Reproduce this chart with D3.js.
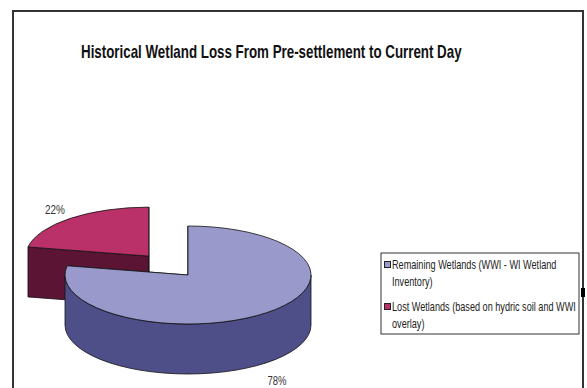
<!DOCTYPE html>
<html>
<head>
<meta charset="utf-8">
<script src="https://cdn.jsdelivr.net/npm/d3@7"></script>
<style>
  html, body { margin: 0; padding: 0; background: #fff; }
  svg { display: block; }
</style>
</head>
<body>
<svg id="chart" width="587" height="388"></svg>
<script>
// ---- data ----
const titleText = "Historical Wetland Loss From Pre-settlement to Current Day";
const categories = [
  "Remaining Wetlands (WWI - WI Wetland Inventory)",
  "Lost Wetlands (based on hydric soil and WWI overlay)"
];
const values = [78, 22];
const topColors = ["#9999CC", "#BA316A"];
const sideColors = ["#4E4E88", "#5C1434"];

// ---- layout ----
const W = 587, H = 388;
const svg = d3.select("#chart");
const font = "'Liberation Sans', Arial, sans-serif";

// frame
svg.append("rect").attr("x", 13).attr("y", 11).attr("width", 570).attr("height", 400)
  .attr("fill", "#fff").attr("stroke", "#333").attr("stroke-width", 2);
svg.append("rect").attr("x", 581).attr("y", 288).attr("width", 4).attr("height", 9).attr("fill", "#000");

// helper: horizontally compressed text
function squeezeText(sel, x, y, str, size, weight, targetW, anchor) {
  const g = sel.append("g");
  const t = g.append("text").text(str)
    .attr("font-family", font).attr("font-size", size).attr("font-weight", weight || "normal")
    .attr("fill", "#111");
  const w = t.node().getComputedTextLength();
  const k = targetW / w;
  let x0 = x;
  if (anchor === "middle") x0 = x - targetW / 2;
  g.attr("transform", `translate(${x0},${y}) scale(${k},1)`);
  return t;
}

// title
squeezeText(svg, 81, 58, titleText, 18, "bold", 381);

// ---- 3D pie ----
const cx = 188, cy = 275, rx = 123, ry = 49, depth = 50, explode = 0.5;
const pie = d3.pie().sort(null).value(d => d)(values);
const px = (a, ox) => ox + rx * Math.sin(a);
const py = (a, oy) => oy - ry * Math.cos(a);

function slicePaths(d, i) {
  const m = (d.startAngle + d.endAngle) / 2;
  const ox = cx + (i === 1 ? Math.sin(m) * explode * rx : 0);
  const oy = cy - (i === 1 ? Math.cos(m) * explode * ry : 0);
  const a0 = d.startAngle, a1 = d.endAngle;
  const large = (a1 - a0) > Math.PI ? 1 : 0;
  const top = d3.path();
  top.moveTo(ox, oy);
  top.lineTo(px(a0, ox), py(a0, oy));
  const topStr = top.toString() + `A${rx},${ry} 0 ${large} 1 ${px(a1, ox)},${py(a1, oy)}Z`;
  const cuts = [a0, a1].map(a => {
    const p = d3.path();
    p.moveTo(ox, oy); p.lineTo(px(a, ox), py(a, oy));
    p.lineTo(px(a, ox), py(a, oy) + depth); p.lineTo(ox, oy + depth); p.closePath();
    return p.toString();
  });
  const w0 = Math.max(a0, Math.PI / 2), w1 = Math.min(a1, 3 * Math.PI / 2);
  let wall = null;
  if (w1 > w0) {
    const lg = (w1 - w0) > Math.PI ? 1 : 0;
    wall = `M${px(w0, ox)},${py(w0, oy)}A${rx},${ry} 0 ${lg} 1 ${px(w1, ox)},${py(w1, oy)}` +
      `L${px(w1, ox)},${py(w1, oy) + depth}A${rx},${ry} 0 ${lg} 0 ${px(w0, ox)},${py(w0, oy) + depth}Z`;
  }
  return { top: topStr, cuts, wall };
}

const pieG = svg.append("g");
[1, 0].forEach(i => {
  const p = slicePaths(pie[i], i);
  const g = pieG.append("g");
  p.cuts.forEach(c => g.append("path").attr("d", c).attr("fill", sideColors[i])
    .attr("stroke", "#111").attr("stroke-width", 0.8).attr("stroke-linejoin", "round"));
  if (p.wall) g.append("path").attr("d", p.wall).attr("fill", sideColors[i])
    .attr("stroke", "#111").attr("stroke-width", 0.8);
  g.append("path").attr("d", p.top).attr("fill", topColors[i])
    .attr("stroke", "#111").attr("stroke-width", 0.8).attr("stroke-linejoin", "round");
});

// percentage labels
const fmt = v => Math.round(v / d3.sum(values) * 100) + "%";
squeezeText(svg, 55, 214, fmt(values[1]), 12.5, "normal", 20, "middle").attr("fill", "#333");
squeezeText(svg, 277, 385, fmt(values[0]), 12.5, "normal", 19, "middle").attr("fill", "#333");

// ---- legend ----
const lg = svg.append("g");
lg.append("rect").attr("x", 381).attr("y", 253).attr("width", 198).attr("height", 81)
  .attr("fill", "#fff").attr("stroke", "#333").attr("stroke-width", 1);
const fs = 12.5, squeeze = 0.73, maxW = 189;
const entryY = [269, 311];
categories.forEach((label, i) => {
  lg.append("rect").attr("x", 384.5).attr("y", entryY[i] - 7.5).attr("width", 6).attr("height", 6)
    .attr("fill", topColors[i]).attr("stroke", "#222").attr("stroke-width", 1);
  const words = label.split(" ");
  const lines = [];
  let cur = "";
  const meas = svg.append("text").attr("font-family", font).attr("font-size", fs);
  words.forEach(wd => {
    const test = cur ? cur + " " + wd : wd;
    meas.text(test);
    if (meas.node().getComputedTextLength() * squeeze > maxW && cur) { lines.push(cur); cur = wd; }
    else cur = test;
  });
  lines.push(cur);
  meas.remove();
  lines.forEach((ln, j) => {
    lg.append("g").attr("transform", `translate(392,${entryY[i] + j * 16.5}) scale(${squeeze},1)`)
      .append("text").text(ln).attr("font-family", font).attr("font-size", fs).attr("fill", "#222");
  });
});
</script>
</body>
</html>
